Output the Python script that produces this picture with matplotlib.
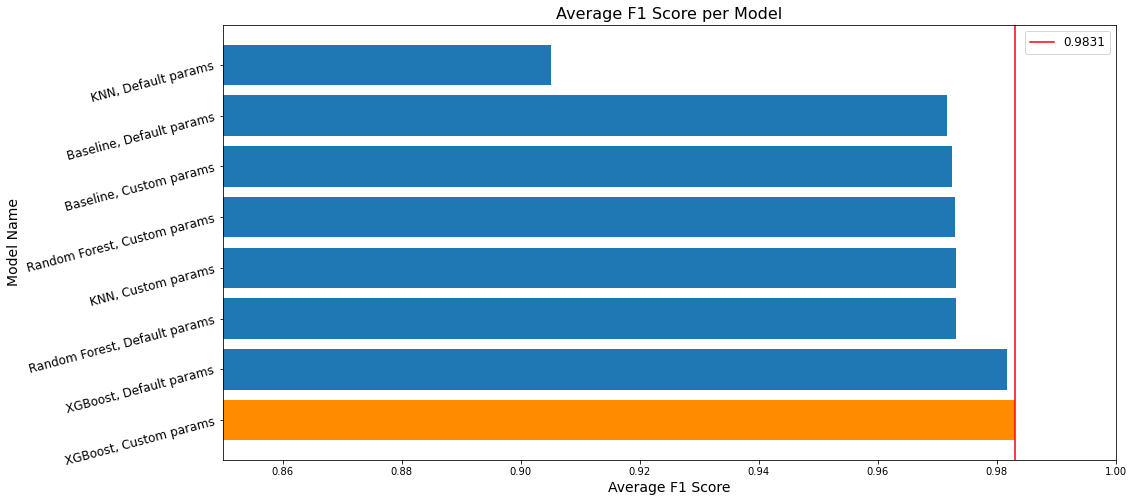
import matplotlib
matplotlib.use("Agg")
import matplotlib.pyplot as plt

models = ["XGBoost, Custom params", "XGBoost, Default params", "Random Forest, Default params",
          "KNN, Custom params", "Random Forest, Custom params", "Baseline, Custom params",
          "Baseline, Default params", "KNN, Default params"]
scores = [0.9831, 0.9817, 0.9731, 0.9731, 0.9730, 0.9725, 0.9716, 0.9051]
best = 0.9831
colors = ["darkorange"] + ["#1f77b4"] * (len(models) - 1)

fig = plt.figure(figsize=(1134/72, 502/72), dpi=72)
ax = fig.add_axes([223/1134, 1 - 460/502, (1116-223)/1134, (460-25)/502])
ax.barh(models, scores, color=colors)
ax.axvline(best, color="red", label=f"{best}")
ax.set_xlim(0.85, 1.00)
ax.set_title("Average F1 Score per Model", fontsize=16)
ax.set_xlabel("Average F1 Score", fontsize=14)
ax.set_ylabel("Model Name", fontsize=14)
ax.tick_params(axis="y", labelsize=12, labelrotation=15)
ax.tick_params(axis="x", labelsize=10)
for lbl in ax.get_yticklabels():
    lbl.set_ha("right")
    lbl.set_rotation_mode("default")
ax.legend(fontsize=12, loc="upper right")
fig.savefig("out.png", dpi=72)
